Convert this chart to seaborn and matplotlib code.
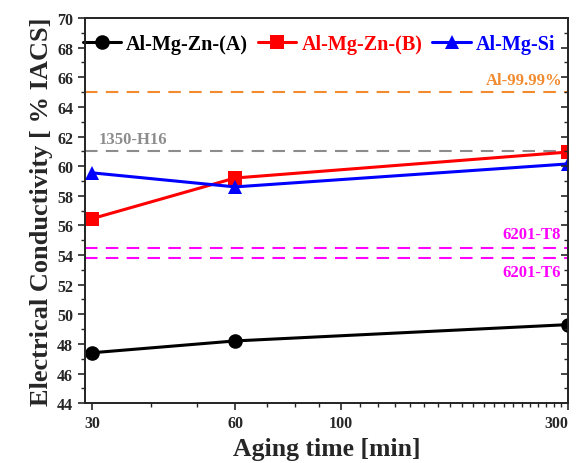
import seaborn as sns
import matplotlib.pyplot as plt
import matplotlib.ticker as mticker
import matplotlib.transforms as mtrans
import pandas as pd

# tiempo de envejecimiento y conductividad (% IACS)
aging_time = [30, 60, 300]
alloys = ['Al-Mg-Zn-(A)', 'Al-Mg-Zn-(B)', 'Al-Mg-Si']
cond_a = [47.4, 48.2, 49.3]
cond_b = [56.45, 59.2, 60.95]
cond_si = [59.55, 58.6, 60.15]

# referencias
ref_names = ['Al-99.99%', '1350-H16', '6201-T8', '6201-T6']
ref_values = [65.0, 61.0, 54.5, 53.8]
ref_colors = ['#F28A2E', '#8C8C8C', '#FF00FF', '#FF00FF']

colors = ['black', '#FF0000', '#0000FF']
markers = ['o', 's', '^']

df = pd.DataFrame({
    'time': aging_time * 3,
    'cond': cond_a + cond_b + cond_si,
    'alloy': [a for a in alloys for _ in aging_time],
})

sns.set_style('ticks')
plt.rcParams['font.family'] = ['Liberation Serif', 'DejaVu Serif']
plt.rcParams['font.weight'] = 'bold'

fig = plt.figure(figsize=(5.77, 4.64), dpi=100)
ax = fig.add_axes([0.147, 0.129, 0.837, 0.83])

for name, val, c in zip(ref_names, ref_values, ref_colors):
    ax.axhline(val, color=c, ls=(0, (6, 4)), lw=1.5, zorder=1)

sns.lineplot(data=df, x='time', y='cond', hue='alloy', style='alloy',
             palette=dict(zip(alloys, colors)), markers=dict(zip(alloys, markers)),
             dashes=False, lw=2.2, markersize=10.5, markeredgewidth=0, ax=ax, zorder=3)

ax.set_xscale('log')
ax.set_xlim(29, 300)
ax.set_ylim(44, 70)
ax.xaxis.set_major_locator(mticker.FixedLocator([30, 60, 100, 300]))
ax.xaxis.set_major_formatter(mticker.FixedFormatter(['30', '60', '100', '300']))
ax.xaxis.set_minor_locator(mticker.MultipleLocator(10))
ax.xaxis.set_minor_formatter(mticker.NullFormatter())
ax.yaxis.set_major_locator(mticker.MultipleLocator(2))
ax.yaxis.set_minor_locator(mticker.MultipleLocator(1))

ax.tick_params(axis='both', which='major', labelsize=11.5, width=1.2, length=5)
ax.tick_params(axis='both', which='minor', width=1, length=3)
ax.tick_params(axis='y', which='both', right=False)
for lab in ax.get_xticklabels() + ax.get_yticklabels():
    lab.set_fontweight('bold')
for sp in ax.spines.values():
    sp.set_linewidth(1.3)

# ticks hacia dentro en el lado derecho
twin = ax.twinx()
twin.set_ylim(ax.get_ylim())
twin.yaxis.set_major_locator(mticker.MultipleLocator(2))
twin.yaxis.set_minor_locator(mticker.MultipleLocator(1))
twin.tick_params(axis='y', which='major', direction='in', length=5, width=1.2, labelright=False)
twin.tick_params(axis='y', which='minor', direction='in', length=3, width=1)
for sp in twin.spines.values():
    sp.set_linewidth(1.3)

# "300" un poco hacia la izquierda
last = ax.get_xticklabels()[-1]
last.set_transform(last.get_transform() + mtrans.ScaledTranslation(-8 / 72, 0, fig.dpi_scale_trans))

ax.set_xlabel('Aging time [min]', fontsize=18.5, fontweight='bold', labelpad=4)
ax.set_ylabel('Electrical Conductivity [ % IACS]', fontsize=19, fontweight='bold', labelpad=3)

# textos de referencia
ax.text(292, 65.3, ref_names[0], color=ref_colors[0], fontsize=12, fontweight='bold', ha='right', va='bottom')
ax.text(31, 61.3, ref_names[1], color=ref_colors[1], fontsize=12, fontweight='bold', ha='left', va='bottom')
ax.text(290, 54.9, ref_names[2], color=ref_colors[2], fontsize=12, fontweight='bold', ha='right', va='bottom')
ax.text(290, 53.4, ref_names[3], color=ref_colors[3], fontsize=12, fontweight='bold', ha='right', va='top')

handles, labels = ax.get_legend_handles_labels()
leg = ax.legend(handles, labels, ncol=3, loc='upper center', bbox_to_anchor=(0.485, 0.99),
                frameon=False, handlelength=1.9, columnspacing=0.5,
                handletextpad=0.25, borderaxespad=0.2, prop={'weight': 'bold', 'size': 14.5})
for t, c in zip(leg.get_texts(), colors):
    t.set_color(c)

fig.savefig('out.png', dpi=100)
